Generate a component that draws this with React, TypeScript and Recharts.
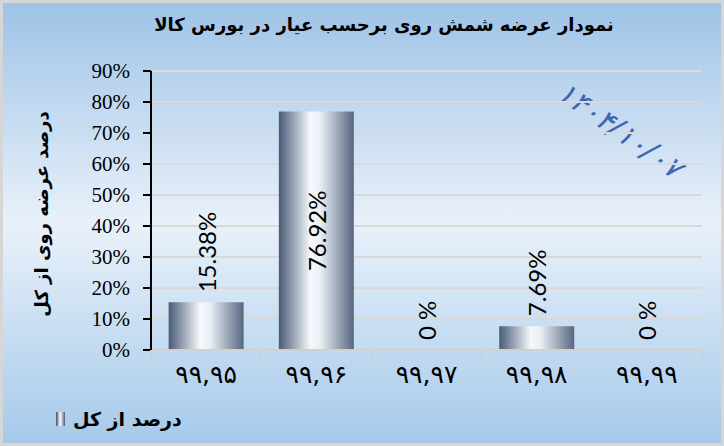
import React from 'react';
import { BarChart, Bar, XAxis, YAxis, CartesianGrid, LabelList } from 'recharts';

const categories = ['۹۹,۹۵', '۹۹,۹۶', '۹۹,۹۷', '۹۹,۹۸', '۹۹,۹۹'];
const shares = [15.38, 76.92, 0, 7.69, 0];
const shareLabels = ['15.38%', '76.92%', '0 %', '7.69%', '0 %'];
const yTicks = [0, 10, 20, 30, 40, 50, 60, 70, 80, 90];

const title = 'نمودار عرضه شمش روی برحسب عیار در بورس کالا';
const yTitle = 'درصد عرضه روی از کل';
const seriesName = 'درصد از کل';
const dateStamp = '۱۴۰۴/۱۰/۰۷';

const data = categories.map((name, i) => ({ name, share: shares[i], label: shareLabels[i] }));

const W = 724;
const H = 446;
const margin = { top: 71, right: 22, left: 91, bottom: 66 };
const yAxisWidth = 60;
const plotW = W - margin.left - margin.right - yAxisWidth;
const halfBand = plotW / categories.length / 2;

const persianFont = "'DejaVu Sans', sans-serif";
const serifFont = "'Liberation Serif', 'Times New Roman', serif";
const labelFont = "Lato, 'Open Sans', sans-serif";

function XTick(props: any) {
  const { x, y, payload, index } = props;
  return (
    <g>
      <line x1={x - halfBand} y1={y} x2={x - halfBand} y2={y + 8} stroke="#d0d0d0" strokeWidth={2} />
      {index === categories.length - 1 && (
        <line x1={x + halfBand} y1={y} x2={x + halfBand} y2={y + 8} stroke="#d0d0d0" strokeWidth={2} />
      )}
      <text x={x} y={y + 24} textAnchor="middle" dominantBaseline="central" fontFamily={persianFont} fontSize={25} fill="#000">
        {payload.value}
      </text>
    </g>
  );
}

function BarLabel(props: any) {
  const { x, y, width, height, value } = props;
  const cx = x + width / 2;
  const inside = height > 150;
  const ay = inside ? y + height / 2 : y - 10;
  return (
    <text
      x={cx}
      y={ay}
      transform={`rotate(-90 ${cx} ${ay})`}
      textAnchor={inside ? 'middle' : 'start'}
      dominantBaseline="central"
      fontFamily={labelFont}
      fontSize={24}
      fill="#000"
    >
      {value}
    </text>
  );
}

export default function App() {
  return (
    <div
      style={{
        position: 'absolute',
        left: 0,
        top: 0,
        width: W,
        height: H,
        boxSizing: 'border-box',
        border: '3px solid #d6d6d6',
        background: 'linear-gradient(180deg, #9ec3e6 0%, #e9f1fa 50%, #a6c9ea 100%)',
        overflow: 'hidden',
      }}
    >
      <div
        style={{
          position: 'absolute',
          left: 0,
          top: 11,
          width: W - 6,
          paddingLeft: 44,
          boxSizing: 'border-box',
          textAlign: 'center',
          fontFamily: persianFont,
          fontWeight: 'bold',
          fontSize: 18,
          color: '#000',
        }}
      >
        {title}
      </div>
      <div
        style={{
          position: 'absolute',
          left: 42 - 3 - 130,
          top: 214 - 3 - 14,
          width: 260,
          height: 28,
          lineHeight: '28px',
          textAlign: 'center',
          transform: 'rotate(-90deg)',
          fontFamily: persianFont,
          fontWeight: 'bold',
          fontSize: 18,
          color: '#000',
        }}
      >
        {yTitle}
      </div>
      <div
        style={{
          position: 'absolute',
          left: 620 - 3 - 110,
          top: 130 - 3 - 20,
          width: 220,
          height: 40,
          lineHeight: '40px',
          textAlign: 'center',
          transform: 'rotate(35deg)',
          fontFamily: persianFont,
          fontStyle: 'italic',
          fontSize: 29,
          color: '#3d66b0',
          direction: 'ltr',
        }}
      >
        {dateStamp}
      </div>
      <div
        style={{
          position: 'absolute',
          left: 56 - 3,
          top: 406 - 3,
          height: 26,
          display: 'flex',
          alignItems: 'center',
          gap: 8,
        }}
      >
        <span
          style={{
            display: 'inline-block',
            flexShrink: 0,
            width: 9,
            height: 14,
            background: 'linear-gradient(90deg, #3e4e6a 0%, #f5f8fc 45%, #e6ecf4 55%, #4a5a74 100%)',
          }}
        />
        <span style={{ fontFamily: persianFont, fontWeight: 'bold', fontSize: 19, color: '#000' }}>{seriesName}</span>
      </div>
      <div style={{ position: 'absolute', left: -3, top: -3 }}>
        <BarChart width={W} height={H} data={data} margin={margin} barCategoryGap="16%">
          <defs>
            <linearGradient id="cylinder" x1="0" y1="0" x2="1" y2="0">
              <stop offset="0%" stopColor="#4a5b77" />
              <stop offset="42%" stopColor="#f5f8fc" />
              <stop offset="55%" stopColor="#eaeff6" />
              <stop offset="100%" stopColor="#56677f" />
            </linearGradient>
          </defs>
          <CartesianGrid vertical={false} stroke="#d9d9d9" strokeWidth={2} />
          <XAxis
            dataKey="name"
            stroke="#d0d0d0"
            strokeWidth={2}
            tickLine={false}
            tickSize={0}
            tickMargin={0}
            tick={<XTick />}
            interval={0}
          />
          <YAxis
            width={yAxisWidth}
            domain={[0, 90]}
            ticks={yTicks}
            interval={0}
            tickFormatter={(v) => `${v}%`}
            stroke="#000"
            strokeWidth={2}
            tickSize={8}
            tickMargin={13}
            tick={{ fill: '#000', fontSize: 21, fontFamily: serifFont }}
          />
          <Bar dataKey="share" fill="url(#cylinder)" minPointSize={0.01} isAnimationActive={false}>
            <LabelList dataKey="label" content={<BarLabel />} />
          </Bar>
        </BarChart>
      </div>
    </div>
  );
}
